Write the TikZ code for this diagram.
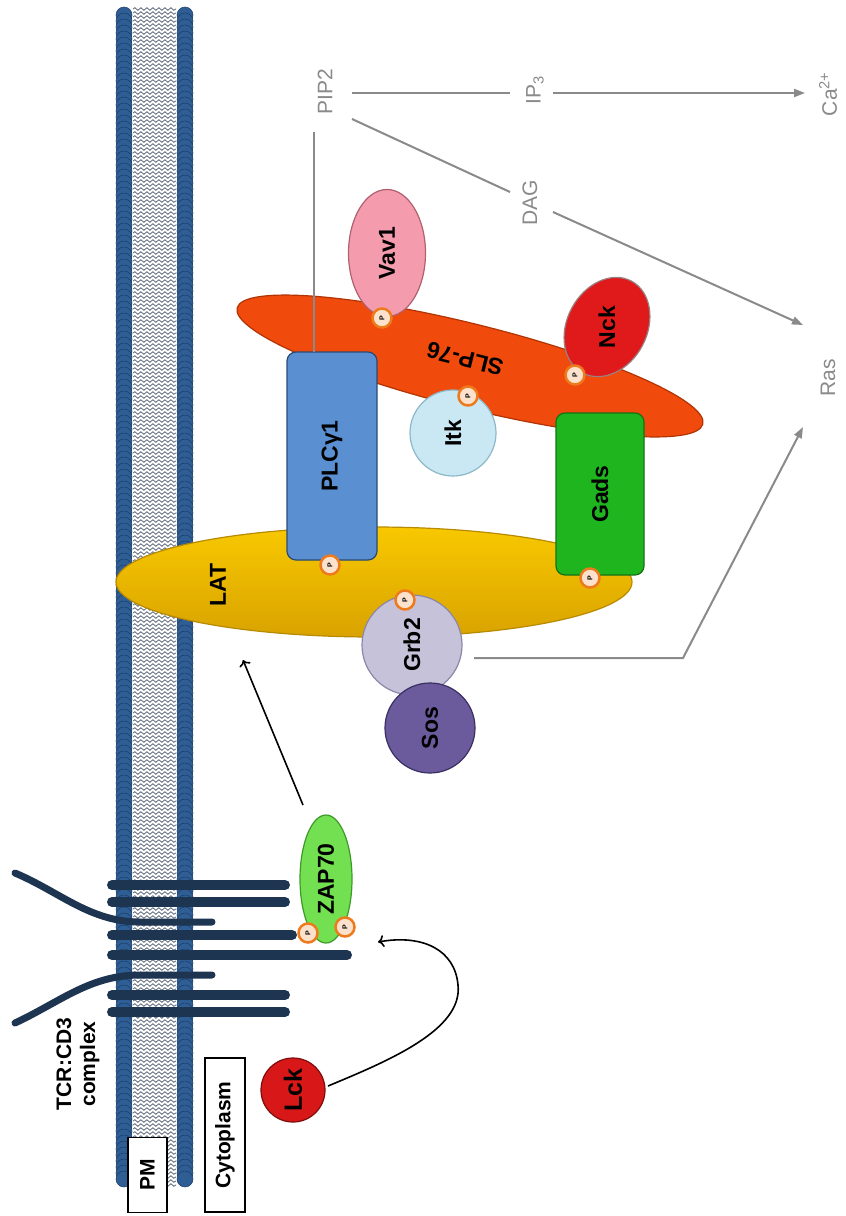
\documentclass[tikz,border=0pt]{standalone}
\usepackage{fontspec}
\setmainfont{Liberation Sans}
\usetikzlibrary{shapes.geometric,arrows.meta,calc,decorations.pathmorphing}

\definecolor{beadblue}{HTML}{2F5E95}
\definecolor{beaddark}{HTML}{1B3C66}
\definecolor{lipidgray}{HTML}{5E6A7C}
\definecolor{tcrblue}{HTML}{1E3552}
\definecolor{zapgreen}{HTML}{72E050}
\definecolor{zapdark}{HTML}{3E9A28}
\definecolor{lckred}{HTML}{D81818}
\definecolor{lckdark}{HTML}{7E0C0C}
\definecolor{latyellow}{HTML}{F8C800}
\definecolor{latgold}{HTML}{D9A300}
\definecolor{latdark}{HTML}{B88A00}
\definecolor{plcblue}{HTML}{5A8FD2}
\definecolor{plcdark}{HTML}{2B4A73}
\definecolor{gadsgreen}{HTML}{1FB51F}
\definecolor{gadsdark}{HTML}{137313}
\definecolor{slporange}{HTML}{F04A0C}
\definecolor{slpdark}{HTML}{B23404}
\definecolor{itkblue}{HTML}{C9E8F3}
\definecolor{itkdark}{HTML}{8DB8C9}
\definecolor{vavpink}{HTML}{F49CAE}
\definecolor{vavdark}{HTML}{B0606F}
\definecolor{nckred}{HTML}{E01A1A}
\definecolor{nckrim}{HTML}{9A8080}
\definecolor{grbgray}{HTML}{C6C2DA}
\definecolor{grbdark}{HTML}{8B87A8}
\definecolor{sospurple}{HTML}{6B5A9C}
\definecolor{sosdark}{HTML}{3B2F63}
\definecolor{porange}{HTML}{EE7A1E}
\definecolor{ppeach}{HTML}{FCE2CC}
\definecolor{lngray}{HTML}{8A8A8A}

\begin{document}
\begin{tikzpicture}[x=1pt, y=-1pt,
    molbase/.style = {draw, line width=1.2pt, inner sep=0pt, text=black,
                      font=\fontsize{23}{27}\selectfont\bfseries},
    mol/.style = {molbase, rotate=90},
    pho/.style = {circle, draw=porange, line width=2.5pt, fill=ppeach, minimum size=19pt,
                  inner sep=0pt, rotate=90, font=\fontsize{7}{7}\selectfont\bfseries},
    tag/.style = {rotate=90, text=lngray, inner sep=2pt, font=\fontsize{21}{25}\selectfont},
    boxlbl/.style = {rotate=90, draw, fill=white, line width=1.2pt, inner sep=0pt,
                     font=\fontsize{21}{25}\selectfont\bfseries},
    conn/.style = {draw=lngray, line width=2pt},
    arr/.style = {conn, -{Triangle[length=11pt,width=8pt]}},
    act/.style = {line width=1.6pt, -{To[length=6pt,width=12pt]}},
    bar/.style = {draw=tcrblue, line width=10pt, line cap=round},
    tail/.style = {draw=tcrblue, line width=7pt, line cap=round},
    bead/.style = {fill=beadblue, draw=beaddark, line width=0.5pt},
    lipid/.style = {draw=lipidgray, line width=0.8pt, decorate,
                    decoration={snake, segment length=6pt, amplitude=1.3pt}}]

  \useasboundingbox (0,0) rectangle (846,1216);
  \fill[white] (0,0) rectangle (846,1216);

  % lipid bilayer
  \foreach \y in {9,13,...,1185}
    \draw[lipid] (133,\y) -- (176,\y);
  \foreach \y in {15,21,...,1179} {
    \filldraw[bead] (124,\y) circle (8pt);
    \filldraw[bead] (185,\y) circle (8pt);
  }

  \node[boxlbl, minimum width=75pt, minimum height=39pt] (pm) at (147.5,1175) {PM};
  \node[boxlbl, minimum width=154pt, minimum height=40pt] (cyto) at (225,1135) {Cytoplasm};

  % TCR:CD3 complex
  \node[rotate=90, align=center, font=\fontsize{21}{24}\selectfont\bfseries] (tcrlbl) at (78,1064) {TCR:CD3\\complex};
  \draw[tail] (15,873) .. controls (60,892) and (90,922) .. (140,922) -- (212,922);
  \draw[tail] (15,1023) .. controls (60,1002) and (90,975) .. (140,975) -- (212,975);
  \foreach \y/\e in {885/285, 902/285, 935/292, 955/347, 995/285, 1012/285}
    \draw[bar] (112,\y) -- (\e,\y);

  % signalling molecules
  \node[molbase, ellipse, rotate=166, draw=slpdark, fill=slporange, minimum width=480pt, minimum height=84pt] (slp) at (470,366) {};
  \node[molbase, rotate=166, draw=none] (slplbl) at (465,359) {SLP-76};
  \node[mol, ellipse, draw=latdark, top color=latyellow, bottom color=latgold, minimum width=110pt, minimum height=516pt] (lat) at (374,582) {};
  \node[mol, draw=none] (latlbl) at (218,585) {LAT};
  \node[mol, rectangle, rounded corners=9pt, draw=plcdark, fill=plcblue, minimum width=208pt, minimum height=90pt] (plc) at (332,456) {PLCγ1};
  \node[mol, rectangle, rounded corners=9pt, draw=gadsdark, fill=gadsgreen, minimum width=162pt, minimum height=88pt] (gads) at (600,494) {Gads};
  \node[mol, circle, draw=itkdark, fill=itkblue, minimum size=86pt] (itk) at (453,433) {Itk};
  \node[mol, ellipse, draw=vavdark, fill=vavpink, minimum width=127pt, minimum height=77pt] (vav) at (387,253) {Vav1};
  \node[molbase, ellipse, rotate=62, draw=nckrim, fill=nckred, minimum width=104pt, minimum height=80pt] (nck) at (607,327) {};
  \node[mol, draw=none] (ncklbl) at (607,327) {Nck};
  \node[mol, circle, draw=grbdark, fill=grbgray, minimum size=100pt] (grb) at (412,645) {Grb2};
  \node[mol, circle, draw=sosdark, fill=sospurple, minimum size=90pt] (sos) at (430,728) {Sos};
  \node[mol, ellipse, draw=zapdark, fill=zapgreen, minimum width=128pt, minimum height=52pt] (zap) at (326,879) {ZAP70};
  \node[mol, circle, draw=lckdark, fill=lckred, minimum size=64pt, font=\fontsize{25}{29}\selectfont\bfseries] (lck) at (293,1090) {Lck};

  % phosphorylated sites
  \foreach \n/\px/\py in {1/382/318, 2/468/396, 3/575/375, 4/330/565, 5/590/578, 6/405/600, 7/308/933, 8/345/927}
    \node[pho] (p\n) at (\px,\py) {P};

  % second messengers
  \node[tag] (pip2) at (325,92) {PIP2};
  \node[tag] (ip3) at (535,90) {IP\textsubscript{3}};
  \node[tag] (ca) at (828,94) {Ca\textsuperscript{2+}};
  \node[tag] (dag) at (530,203) {DAG};
  \node[tag] (ras) at (828,378) {Ras};

  \draw[conn] ($(plc)+(-18,-104)$) -- ($(pip2)+(-11,40)$);
  \draw[conn] ($(pip2)+(27,1)$) -- ($(ip3)+(-25,3)$);
  \draw[arr] ($(ip3)+(18,3)$) -- ($(ca)+(-23,-1)$);
  \draw[conn] ($(pip2)+(27,27)$) -- ($(dag)+(-20,-11)$);
  \draw[arr] ($(dag)+(23,9)$) -- ($(ras)+(-25,-53)$);
  \draw[arr] ($(grb)+(62,13)$) -- ++(209,0) -- ($(ras)+(-25,49)$);

  \draw[act] ($(zap)+(-23,-74)$) -- ($(lat)+(-131,78)$);
  \draw[act] ($(lck)+(35,-4)$) .. controls +(60,-25) and +(5,45) .. (458,985)
             .. controls +(-3,-35) and +(45,-8) .. ($(zap)+(52,63)$);
\end{tikzpicture}
\end{document}
